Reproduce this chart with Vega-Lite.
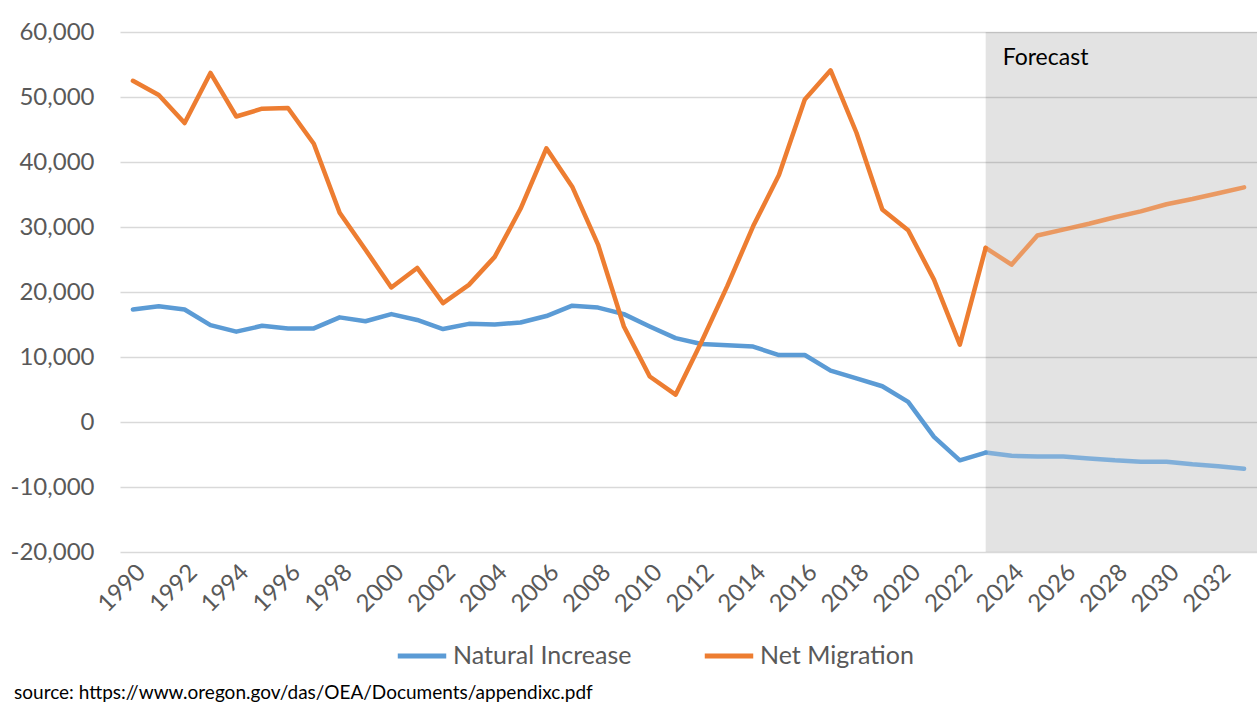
{
  "$schema": "https://vega.github.io/schema/vega-lite/v6.json",
  "width": 1137,
  "height": 520,
  "autosize": {"type": "none"},
  "padding": {"left": 120, "top": 32, "right": 0, "bottom": 155},
  "background": "white",
  "config": {
    "view": {"stroke": null},
    "font": "Lato",
    "axis": {"labelFont": "Lato", "labelColor": "#595959"},
    "legend": {"labelFont": "Lato", "labelColor": "#595959"}
  },
  "title": {
    "text": "source: https://www.oregon.gov/das/OEA/Documents/appendixc.pdf",
    "orient": "bottom",
    "anchor": "start",
    "frame": "bounds",
    "font": "Lato",
    "fontSize": 19,
    "fontWeight": "normal",
    "color": "#000000",
    "offset": 15,
    "dx": 4
  },
  "datasets": {
    "forecastPeriod": [{"label": "Forecast", "start": 2023, "end": 2033.5}],
    "populationChange": [
      {"year": 1990, "series": "Natural Increase", "value": 17300},
      {"year": 1991, "series": "Natural Increase", "value": 17800},
      {"year": 1992, "series": "Natural Increase", "value": 17300},
      {"year": 1993, "series": "Natural Increase", "value": 14900},
      {"year": 1994, "series": "Natural Increase", "value": 13900},
      {"year": 1995, "series": "Natural Increase", "value": 14800},
      {"year": 1996, "series": "Natural Increase", "value": 14400},
      {"year": 1997, "series": "Natural Increase", "value": 14400},
      {"year": 1998, "series": "Natural Increase", "value": 16100},
      {"year": 1999, "series": "Natural Increase", "value": 15500},
      {"year": 2000, "series": "Natural Increase", "value": 16600},
      {"year": 2001, "series": "Natural Increase", "value": 15700},
      {"year": 2002, "series": "Natural Increase", "value": 14300},
      {"year": 2003, "series": "Natural Increase", "value": 15100},
      {"year": 2004, "series": "Natural Increase", "value": 15000},
      {"year": 2005, "series": "Natural Increase", "value": 15300},
      {"year": 2006, "series": "Natural Increase", "value": 16300},
      {"year": 2007, "series": "Natural Increase", "value": 17900},
      {"year": 2008, "series": "Natural Increase", "value": 17600},
      {"year": 2009, "series": "Natural Increase", "value": 16600},
      {"year": 2010, "series": "Natural Increase", "value": 14700},
      {"year": 2011, "series": "Natural Increase", "value": 12900},
      {"year": 2012, "series": "Natural Increase", "value": 12000},
      {"year": 2013, "series": "Natural Increase", "value": 11800},
      {"year": 2014, "series": "Natural Increase", "value": 11600},
      {"year": 2015, "series": "Natural Increase", "value": 10300},
      {"year": 2016, "series": "Natural Increase", "value": 10300},
      {"year": 2017, "series": "Natural Increase", "value": 7900},
      {"year": 2018, "series": "Natural Increase", "value": 6700},
      {"year": 2019, "series": "Natural Increase", "value": 5500},
      {"year": 2020, "series": "Natural Increase", "value": 3100},
      {"year": 2021, "series": "Natural Increase", "value": -2300},
      {"year": 2022, "series": "Natural Increase", "value": -5900},
      {"year": 2023, "series": "Natural Increase", "value": -4700},
      {"year": 2024, "series": "Natural Increase", "value": -5200},
      {"year": 2025, "series": "Natural Increase", "value": -5300},
      {"year": 2026, "series": "Natural Increase", "value": -5300},
      {"year": 2027, "series": "Natural Increase", "value": -5600},
      {"year": 2028, "series": "Natural Increase", "value": -5900},
      {"year": 2029, "series": "Natural Increase", "value": -6100},
      {"year": 2030, "series": "Natural Increase", "value": -6100},
      {"year": 2031, "series": "Natural Increase", "value": -6500},
      {"year": 2032, "series": "Natural Increase", "value": -6800},
      {"year": 2033, "series": "Natural Increase", "value": -7200},
      {"year": 1990, "series": "Net Migration", "value": 52500},
      {"year": 1991, "series": "Net Migration", "value": 50300},
      {"year": 1992, "series": "Net Migration", "value": 46000},
      {"year": 1993, "series": "Net Migration", "value": 53700},
      {"year": 1994, "series": "Net Migration", "value": 47000},
      {"year": 1995, "series": "Net Migration", "value": 48200},
      {"year": 1996, "series": "Net Migration", "value": 48300},
      {"year": 1997, "series": "Net Migration", "value": 42800},
      {"year": 1998, "series": "Net Migration", "value": 32200},
      {"year": 1999, "series": "Net Migration", "value": 26500},
      {"year": 2000, "series": "Net Migration", "value": 20700},
      {"year": 2001, "series": "Net Migration", "value": 23700},
      {"year": 2002, "series": "Net Migration", "value": 18300},
      {"year": 2003, "series": "Net Migration", "value": 21100},
      {"year": 2004, "series": "Net Migration", "value": 25400},
      {"year": 2005, "series": "Net Migration", "value": 32800},
      {"year": 2006, "series": "Net Migration", "value": 42100},
      {"year": 2007, "series": "Net Migration", "value": 36200},
      {"year": 2008, "series": "Net Migration", "value": 27300},
      {"year": 2009, "series": "Net Migration", "value": 14700},
      {"year": 2010, "series": "Net Migration", "value": 7000},
      {"year": 2011, "series": "Net Migration", "value": 4200},
      {"year": 2012, "series": "Net Migration", "value": 12300},
      {"year": 2013, "series": "Net Migration", "value": 20900},
      {"year": 2014, "series": "Net Migration", "value": 30100},
      {"year": 2015, "series": "Net Migration", "value": 38000},
      {"year": 2016, "series": "Net Migration", "value": 49600},
      {"year": 2017, "series": "Net Migration", "value": 54100},
      {"year": 2018, "series": "Net Migration", "value": 44500},
      {"year": 2019, "series": "Net Migration", "value": 32700},
      {"year": 2020, "series": "Net Migration", "value": 29500},
      {"year": 2021, "series": "Net Migration", "value": 21900},
      {"year": 2022, "series": "Net Migration", "value": 11900},
      {"year": 2023, "series": "Net Migration", "value": 26800},
      {"year": 2024, "series": "Net Migration", "value": 24200},
      {"year": 2025, "series": "Net Migration", "value": 28700},
      {"year": 2026, "series": "Net Migration", "value": 29600},
      {"year": 2027, "series": "Net Migration", "value": 30500},
      {"year": 2028, "series": "Net Migration", "value": 31500},
      {"year": 2029, "series": "Net Migration", "value": 32400},
      {"year": 2030, "series": "Net Migration", "value": 33500},
      {"year": 2031, "series": "Net Migration", "value": 34300},
      {"year": 2032, "series": "Net Migration", "value": 35200},
      {"year": 2033, "series": "Net Migration", "value": 36100}
    ]
  },
  "layer": [
    {
      "data": {"name": "forecastPeriod"},
      "mark": {"type": "rect", "fill": "#000000", "fillOpacity": 0.11},
      "encoding": {
        "x": {"field": "start", "type": "quantitative", "scale": {"domain": [1989.5, 2033.5], "nice": false, "zero": false}},
        "x2": {"field": "end"},
        "y": {"datum": -20000, "type": "quantitative", "scale": {"domain": [-20000, 60000], "nice": false}},
        "y2": {"datum": 60000}
      }
    },
    {
      "data": {"name": "forecastPeriod"},
      "mark": {"type": "text", "align": "left", "baseline": "middle", "fontSize": 23, "font": "Lato", "color": "#000000", "dx": 17},
      "encoding": {
        "x": {"field": "start", "type": "quantitative"},
        "y": {"datum": 56000, "type": "quantitative"},
        "text": {"field": "label", "type": "nominal"}
      }
    },
    {
      "data": {"name": "populationChange"},
      "transform": [{"filter": "datum.year <= 2023"}],
      "mark": {"type": "line", "strokeWidth": 4.5, "strokeJoin": "round", "strokeCap": "round"},
      "encoding": {
        "x": {
          "field": "year",
          "type": "quantitative",
          "axis": {
            "title": null,
            "values": [1990, 1992, 1994, 1996, 1998, 2000, 2002, 2004, 2006, 2008, 2010, 2012, 2014, 2016, 2018, 2020, 2022, 2024, 2026, 2028, 2030, 2032],
            "format": "d",
            "labelAngle": -45,
            "labelFontSize": 24,
            "labelPadding": 8,
            "grid": false,
            "ticks": false,
            "domain": false,
            "labelFlush": false,
            "labelOverlap": false
          }
        },
        "y": {
          "field": "value",
          "type": "quantitative",
          "axis": {
            "title": null,
            "values": [-20000, -10000, 0, 10000, 20000, 30000, 40000, 50000, 60000],
            "labelExpr": "replace(format(datum.value, ',.0f'), '\u2212', '-')",
            "labelFontSize": 24,
            "labelPadding": 26,
            "grid": true,
            "gridColor": "#D9D9D9",
            "gridWidth": 1.5,
            "ticks": false,
            "domain": false,
            "labelFlush": false
          }
        },
        "color": {
          "field": "series",
          "type": "nominal",
          "scale": {"domain": ["Natural Increase", "Net Migration"], "range": ["#5B9BD5", "#ED7D31"]},
          "legend": {
            "title": null,
            "orient": "none",
            "direction": "horizontal",
            "legendX": 275,
            "legendY": 597,
            "symbolType": "stroke",
            "symbolSize": 2350,
            "symbolStrokeWidth": 5,
            "labelFontSize": 25,
            "labelLimit": 400,
            "labelOffset": 4,
            "columnPadding": 62
          }
        }
      }
    },
    {
      "data": {"name": "populationChange"},
      "transform": [{"filter": "datum.year >= 2023"}],
      "mark": {"type": "line", "strokeWidth": 4.5, "strokeJoin": "round", "strokeCap": "round", "strokeOpacity": 0.72},
      "encoding": {
        "x": {"field": "year", "type": "quantitative"},
        "y": {"field": "value", "type": "quantitative"},
        "color": {"field": "series", "type": "nominal", "legend": null}
      }
    }
  ]
}
